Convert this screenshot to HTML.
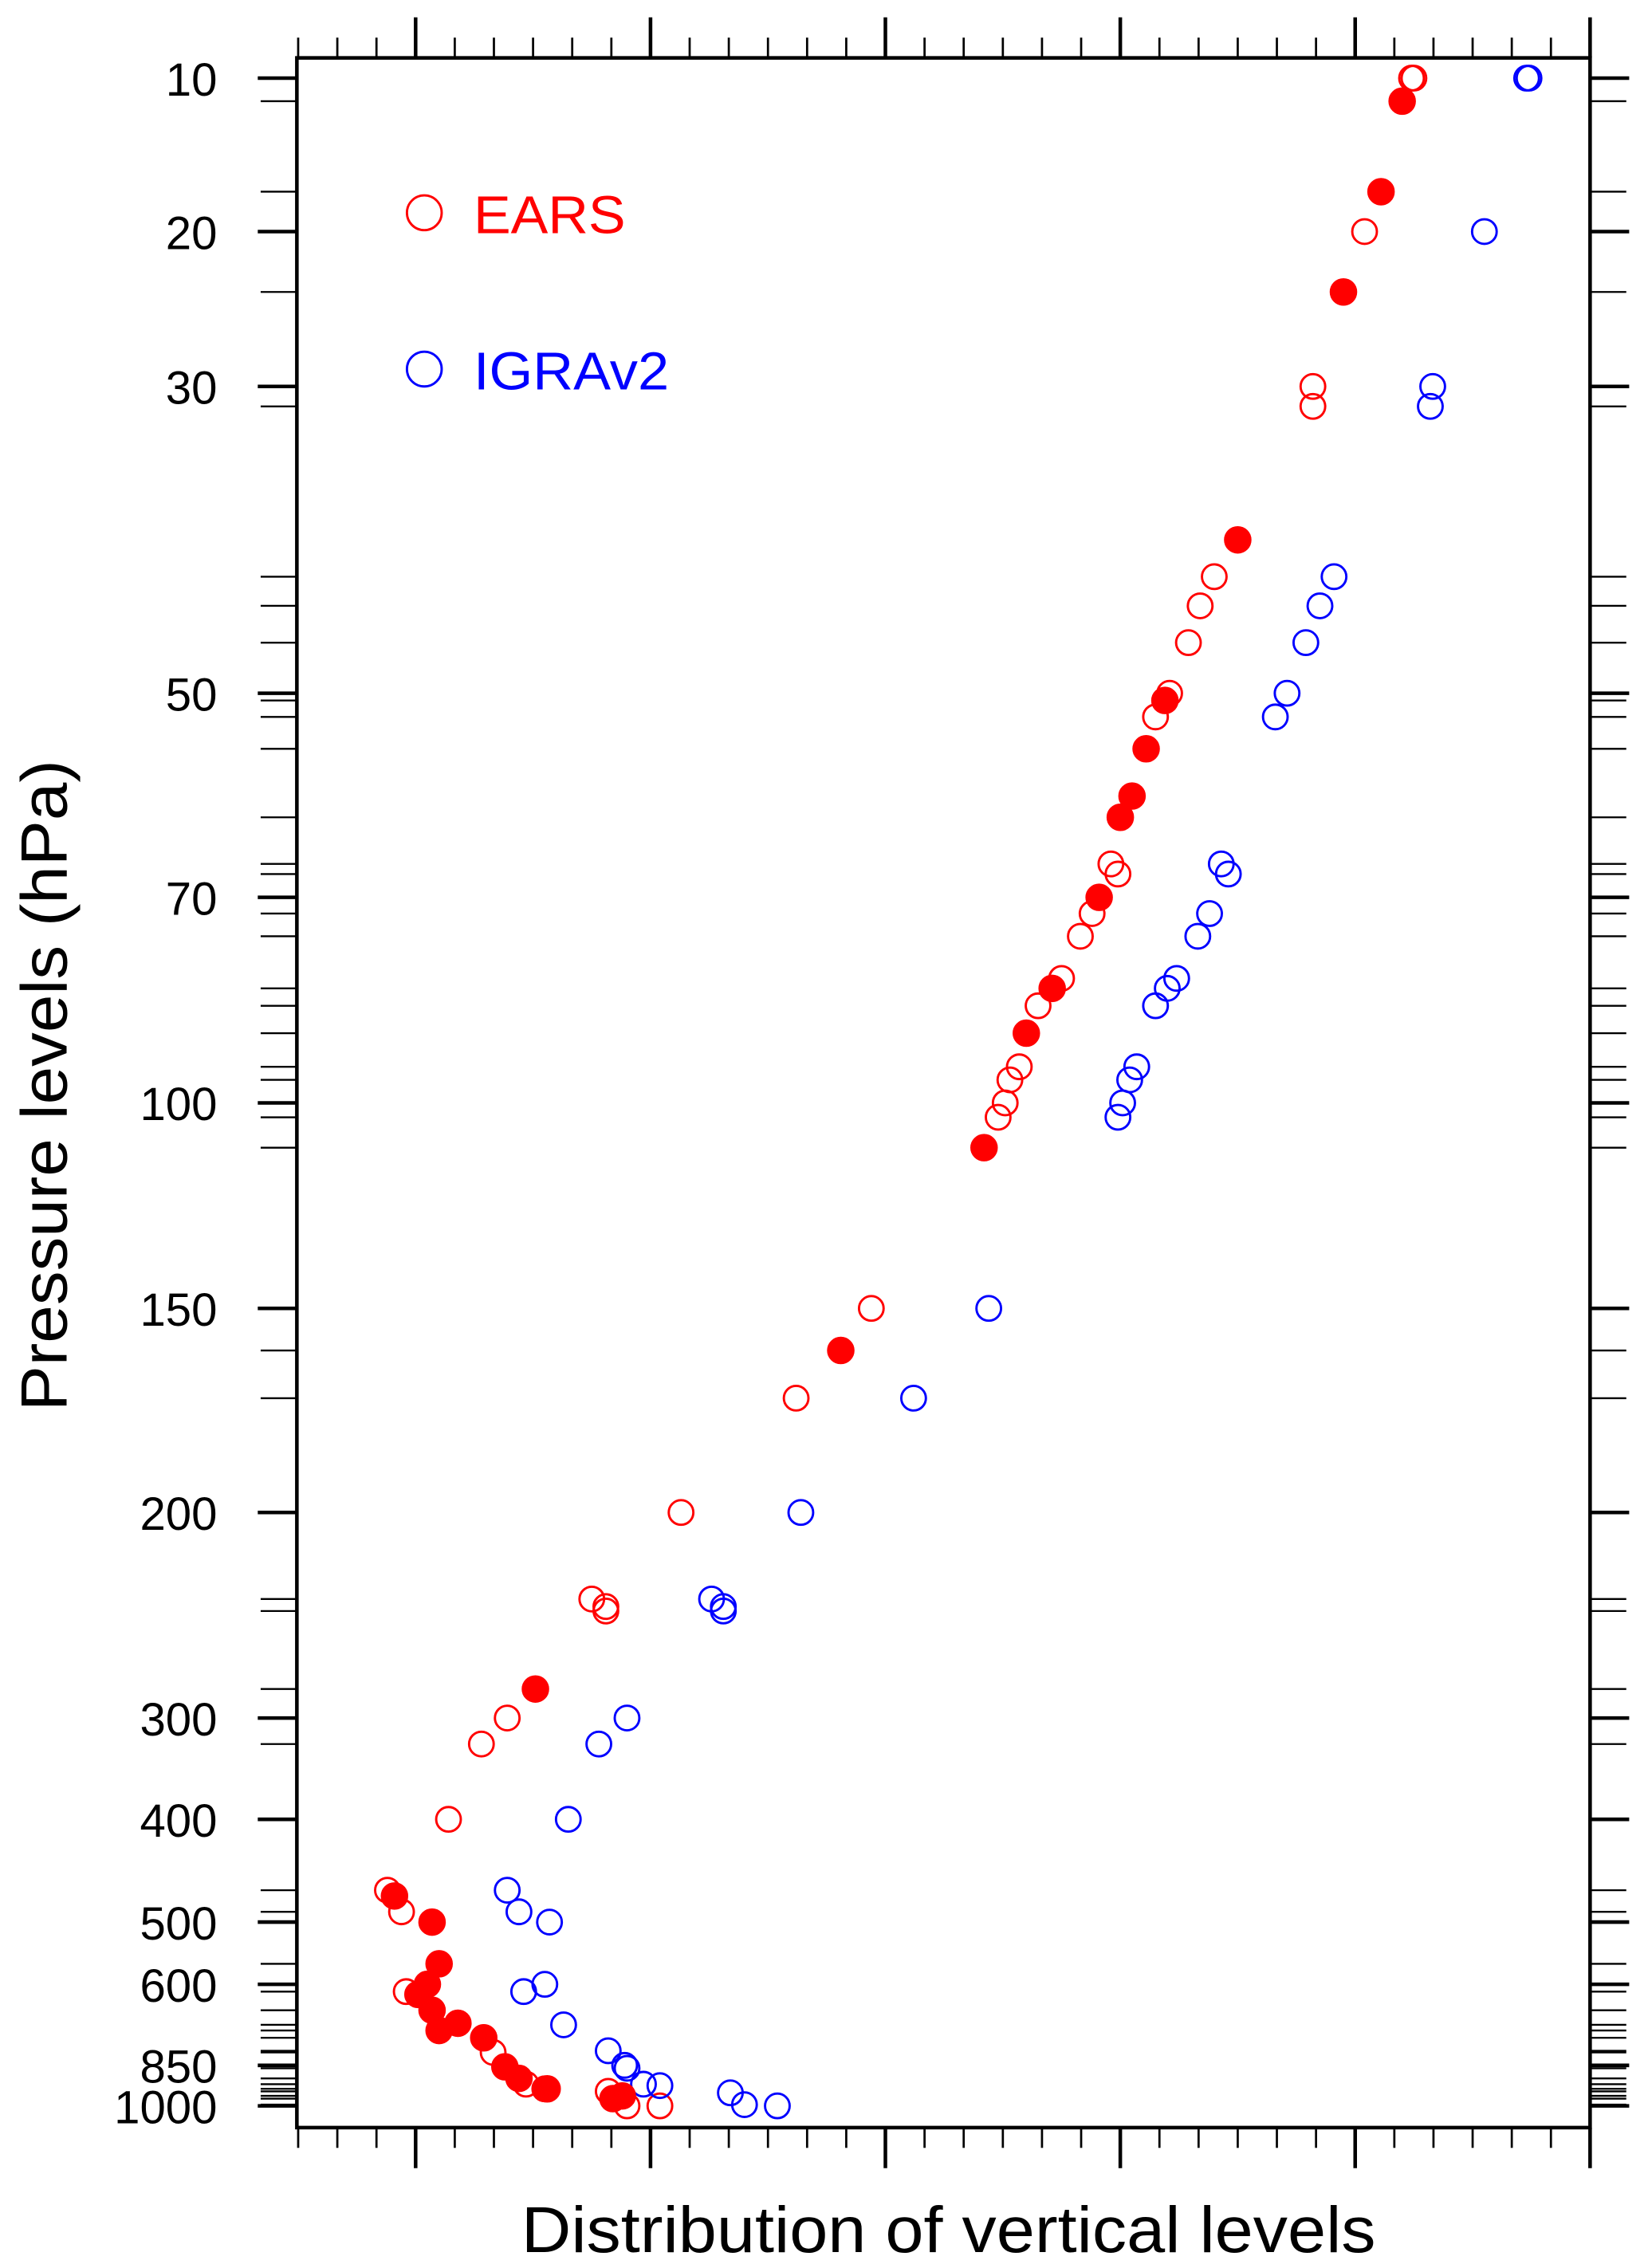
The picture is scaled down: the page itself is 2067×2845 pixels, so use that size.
<!DOCTYPE html>
<html><head><meta charset="utf-8"><style>
html,body{margin:0;padding:0;background:#fff;}
svg{display:block;font-family:"Liberation Sans",sans-serif;}
</style></head><body>
<svg id="chart" width="2067" height="2845" viewBox="0 0 1138 1567" preserveAspectRatio="none" xmlns="http://www.w3.org/2000/svg">
<rect x="0" y="0" width="1138" height="1567" fill="#fff"/>
<g id="ticks"></g>
<g id="marks"></g>
<rect x="205" y="40" width="893" height="1430" fill="none" stroke="#000" stroke-width="2.5"/>
<text transform="translate(46,750) rotate(-90)" text-anchor="middle" font-size="45" textLength="450" lengthAdjust="spacingAndGlyphs">Pressure levels (hPa)</text>
<text x="655" y="1556" text-anchor="middle" font-size="45" textLength="590" lengthAdjust="spacingAndGlyphs">Distribution of vertical levels</text>
<g>
<circle cx="293" cy="147" r="12" fill="none" stroke="#f00" stroke-width="1.6"/>
<text x="327" y="161" font-size="37" fill="#f00" textLength="105" lengthAdjust="spacingAndGlyphs">EARS</text>
<circle cx="293" cy="255" r="12" fill="none" stroke="#00f" stroke-width="1.6"/>
<text x="327" y="269" font-size="37" fill="#00f" textLength="135" lengthAdjust="spacingAndGlyphs">IGRAv2</text>
</g>
</svg>
<script>
const knotP = [10,20,30,40,50,60,70,80,100,150,200,250,300,400,500,600,700,850,925,1000];
const knotY = [54,160,267,373,479,550,620,676,762,904,1045,1110,1187,1257,1328,1371,1399,1427,1442,1455];
const yTickLabels = [10,20,30,50,70,100,150,200,300,400,500,600,850,1000];
const yMinorLevels = [11.5,17.4,23.9,31.3,42.4,44.3,46.7,50.7,52.3,55.4,62.1,66.7,67.7,72,74.8,81.6,84.4,88.8,94.2,96.3,103.5,110.9,160.3,172,246,252,287,325.7,469,490,567,618,664,700,721,748,796,802,860,895,915,932,942,960,971,995];
const xMajorTicks = [0,1,2,3,4,5];

const earsOpenX = [4.25,4.24,4.04,3.82,3.82,3.40,3.34,3.29,3.21,3.15,2.96,2.99,2.88,2.83,2.75,2.71,2.65,2.57,2.53,2.51,2.48,1.94,1.62,1.13,0.75,0.81,0.81,0.39,0.28,0.14,-0.12,-0.06,-0.04,0.33,0.47,0.55,0.82,0.90,1.04];
const earsOpenP = [10,10,20,30,31.3,42.4,44.3,46.7,50,52.3,66.7,67.7,72,74.8,80,81.6,84.4,94.2,96.3,100,103.5,150,172,200,246,250,252,300,325.7,400,469,490,618,802,915,932,942,1000,1000];
const earsFillX = [4.20,4.11,3.95,3.50,3.19,3.11,3.05,3.00,2.91,2.71,2.60,2.42,1.81,0.51,-0.09,0.07,0.10,0.05,0.01,0.07,0.10,0.18,0.29,0.38,0.44,0.56,0.84,0.88];
const earsFillP = [11.5,17.4,23.9,40,50.7,55.4,60,62.1,70,81.6,88.8,110.9,160.3,287,474.6,500,567,600,625,664,721,696,748,855,895,932,971,960];
const igraX = [4.74,4.73,4.55,4.33,4.32,3.91,3.85,3.79,3.71,3.66,3.43,3.46,3.38,3.33,3.24,3.20,3.15,3.07,3.04,3.01,2.99,2.44,2.12,1.64,1.26,1.31,1.31,0.90,0.78,0.65,0.39,0.44,0.57,0.55,0.46,0.63,0.82,0.89,0.90,0.97,1.04,1.34,1.40,1.54];
const igraP = [10,10,20,30,31.3,42.4,44.3,46.7,50,52.3,66.7,67.7,72,74.8,80,81.6,84.4,94.2,96.3,100,103.5,150,172,200,246,250,252,300,325.7,400,469,490,500,600,618,700,796,850,860,915,920,948,995,1000];

const NS='http://www.w3.org/2000/svg';
function xs(u){return 287+u*162.2;}
function ys(p){
  if(p<=knotP[0]) return knotY[0];
  for(let i=1;i<knotP.length;i++){
    if(p<=knotP[i]){const t=(p-knotP[i-1])/(knotP[i]-knotP[i-1]);return knotY[i-1]+t*(knotY[i]-knotY[i-1]);}
  }
  return knotY[knotY.length-1];
}
function mk(tag,attrs,parent){const e=document.createElementNS(NS,tag);for(const k in attrs)e.setAttribute(k,attrs[k]);parent.appendChild(e);return e;}
const tg=document.getElementById('ticks'), mg=document.getElementById('marks');

yTickLabels.forEach(p=>{
  const y=ys(p);
  let l=mk('line',{x1:178,x2:205,y1:y,y2:y,stroke:'#000','stroke-width':2.5},tg);
  
  
  l=mk('line',{x1:1098,x2:1125,y1:y,y2:y,stroke:'#000','stroke-width':2.5},tg);
  
  
  const t=mk('text',{x:150,y:y+12,'text-anchor':'end','font-size':32},tg);
  t.textContent=String(p);
  
  
});
yMinorLevels.forEach(p=>{
  const y=ys(p);
  let l=mk('line',{x1:180,x2:205,y1:y,y2:y,stroke:'#000','stroke-width':1.3},tg);
  
  
  l=mk('line',{x1:1098,x2:1123,y1:y,y2:y,stroke:'#000','stroke-width':1.3},tg);
  
  
});
for(let k=-3;k<=30;k++){
  const u=k/6, x=xs(u);
  if(x<204||x>1099) continue;
  const major=xMajorTicks.some(m=>Math.abs(m-u)<1e-6);
  const len=major?28:14, w=major?2.5:1.5;
  let l=mk('line',{x1:x,x2:x,y1:40,y2:40-len,stroke:'#000','stroke-width':w},tg);
  
  
  l=mk('line',{x1:x,x2:x,y1:1470,y2:1470+len,stroke:'#000','stroke-width':w},tg);
  
  
}
earsOpenX.forEach((u,i)=>{
  const c=mk('circle',{cx:xs(u),cy:ys(earsOpenP[i]),r:8.5,fill:'none',stroke:'#f00','stroke-width':1.6},mg);
  
  
});
igraX.forEach((u,i)=>{
  const c=mk('circle',{cx:xs(u),cy:ys(igraP[i]),r:8.5,fill:'none',stroke:'#00f','stroke-width':1.6},mg);
  
  
});
earsFillX.forEach((u,i)=>{
  const c=mk('circle',{cx:xs(u),cy:ys(earsFillP[i]),r:9,fill:'#f00',stroke:'#f00','stroke-width':1},mg);
  
  
});
</script>
</body></html>
